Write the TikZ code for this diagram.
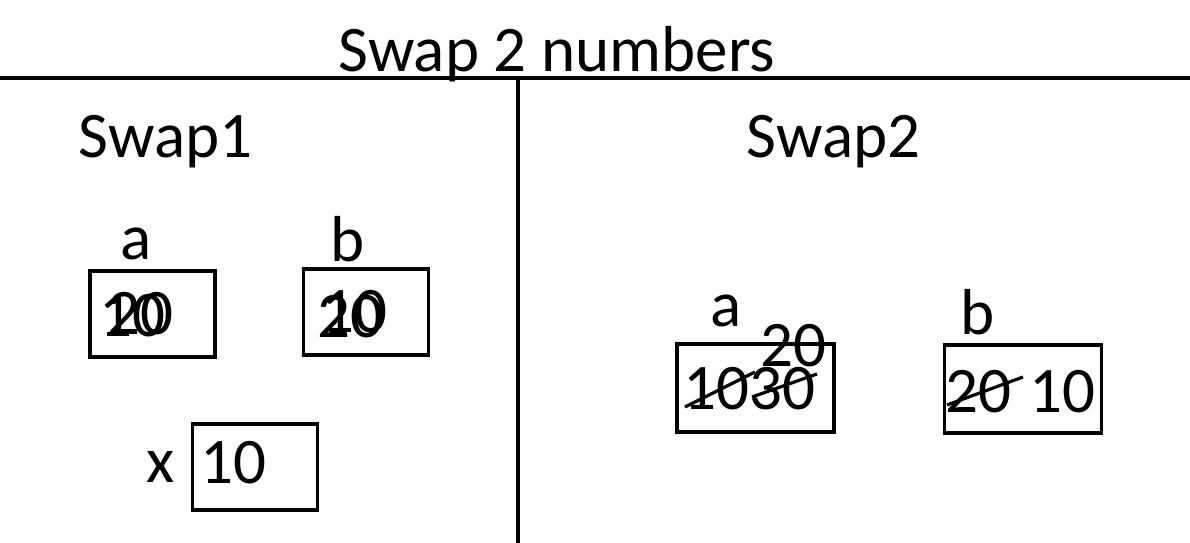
\documentclass[tikz,border=0pt]{standalone}
\usepackage{fontspec}
\setmainfont{Carlito}
\newcommand{\bigtext}{\fontsize{37}{41}\selectfont}

\begin{document}
\begin{tikzpicture}[x=0.02cm, y=-0.02cm, line width=2.2pt,
  txt/.style={inner sep=0, anchor=base west, font=\bigtext},
  cell/.style={draw, rectangle, inner sep=0, line width=2pt, minimum width=2.5cm, minimum height=1.72cm}]
\useasboundingbox (0,0) rectangle (1190,543);

% Titel und Trennlinien
\node[txt, anchor=base] (title) at (557,72) {Swap 2 numbers};
\draw (0,78) -- (1190,78);
\draw (518,78) -- (518,543);

% Swap1
\node[txt] (s1) at (77,158) {Swap1};
\node[cell] (a1) at (152.5,314) {};
\node[cell] (b1) at (366,312) {};
\node[cell] (x1) at (255,467) {};
\node[txt] (la1) at (119,260) {a};
\node[txt] (lb1) at (329,262) {b};
\node[txt] (lx1) at (145,483) {x};
\node[txt] (va1) at (98,337) {10};
\node[txt] (va1n) at (106,335) {20};
\node[txt] (vb1) at (316,338) {20};
\node[txt] (vb1n) at (320,333) {10};
\node[txt] (vx1) at (199,484) {10};

% Swap2
\node[txt] (s2) at (745,158) {Swap2};
\node[cell, minimum width=3.14cm, minimum height=1.76cm] (a2) at (755.5,388) {};
\node[cell, minimum width=3.14cm, minimum height=1.76cm] (b2) at (1023,389) {};
\node[txt] (la2) at (709,327) {a};
\node[txt] (lb2) at (959,335) {b};
\node[txt] (va2n) at (759,367) {20};
\node[txt] (va2) at (682,410) {1030};
\node[txt] (vb2) at (944,413) {20};
\node[txt] (vb2n) at (1028,413) {10};

% Durchgestrichen
\draw[line width=1.8pt] (685,407) -- (755,372);
\draw[line width=1.8pt] (752,397) -- (817,374);
\draw[line width=1.8pt] (947,405) -- (1023,377);
\end{tikzpicture}
\end{document}
